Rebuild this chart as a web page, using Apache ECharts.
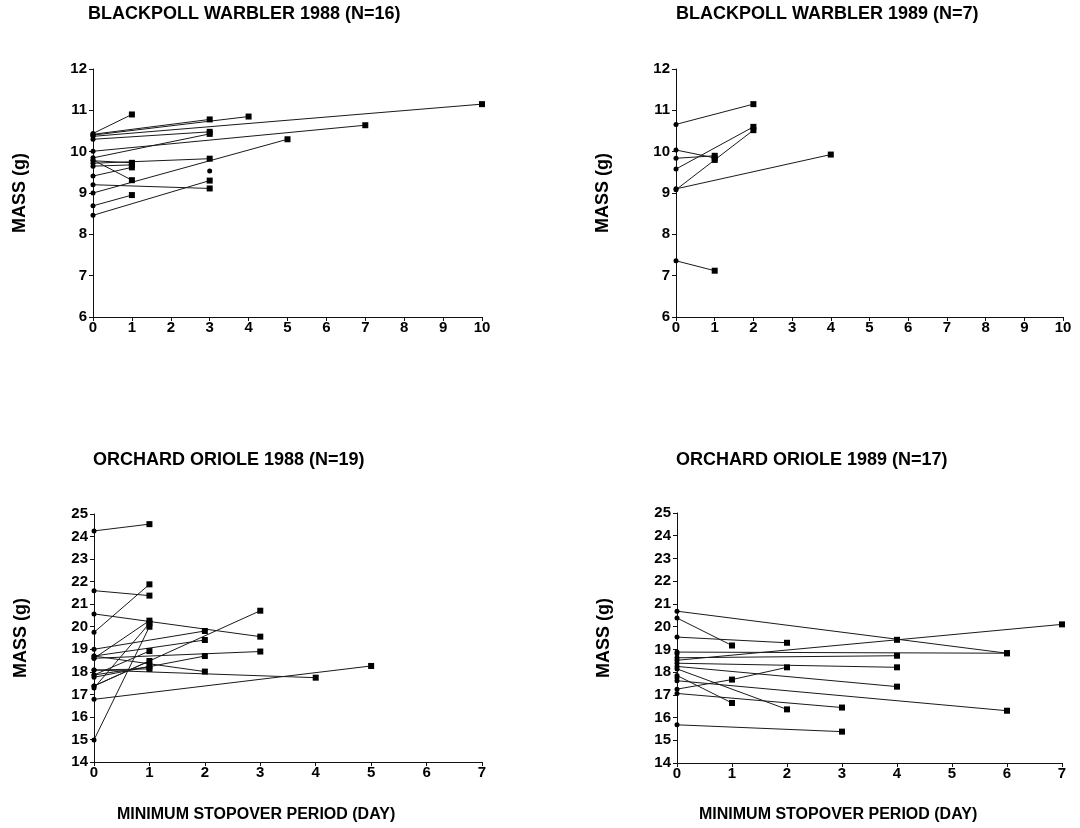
<!DOCTYPE html>
<html>
<head>
<meta charset="utf-8">
<script src="https://cdn.jsdelivr.net/npm/echarts@6/dist/echarts.min.js"></script>
<style>html,body{margin:0;padding:0;background:#fff;}#c{width:1080px;height:828px;}</style>
</head>
<body>
<div id="c"></div>
<script>
// ---- data: each bird = list of [day, mass(g)] captures ----
const panelTitles = ['BLACKPOLL WARBLER 1988 (N=16)', 'BLACKPOLL WARBLER 1989 (N=7)', 'ORCHARD ORIOLE 1988 (N=19)', 'ORCHARD ORIOLE 1989 (N=17)'];
const xAxisTitle = 'MINIMUM STOPOVER PERIOD (DAY)';
const yAxisTitle = 'MASS (g)';
const xRangeWarbler = [0, 10];
const yRangeWarbler = [6, 12];
const xRangeOriole = [0, 7];
const yRangeOriole = [14, 25];

const warbler1988 = [
  [[0,10.44],[1,10.90]],
  [[0,10.42],[3,10.78]],
  [[0,10.40],[4,10.85]],
  [[0,10.37],[10,11.15]],
  [[0,10.30],[3,10.48]],
  [[0,10.01],[7,10.64]],
  [[0,9.85],[3,10.43]],
  [[0,9.78],[1,9.73]],
  [[0,9.72],[3,9.83]],
  [[0,9.65],[1,9.68]],
  [[0,9.80],[1,9.31]],
  [[0,9.41],[1,9.62]],
  [[0,9.20],[3,9.11]],
  [[0,9.00],[5,10.30]],
  [[0,8.69],[1,8.95]],
  [[0,8.46],[3,9.30]],
  [[3,9.53]]
];
const warbler1989 = [
  [[0,10.66],[2,11.15]],
  [[0,10.04],[1,9.85]],
  [[0,9.84],[1,9.90]],
  [[0,9.58],[2,10.60]],
  [[0,9.08],[1,9.80],[2,10.52]],
  [[0,9.10],[4,9.93]],
  [[0,7.36],[1,7.12]]
];
const oriole1988 = [
  [[0,24.25],[1,24.55]],
  [[0,21.60],[1,21.38]],
  [[0,19.75],[1,21.88]],
  [[0,20.57],[3,19.56]],
  [[0,14.98],[1,20.00]],
  [[0,18.60],[1,20.27]],
  [[0,17.28],[1,20.15]],
  [[0,16.78],[5,18.26]],
  [[0,18.08],[4,17.74]],
  [[0,17.37],[3,20.71]],
  [[0,19.00],[2,19.81]],
  [[0,18.70],[2,19.41]],
  [[0,18.60],[3,18.90]],
  [[0,17.76],[2,18.70]],
  [[0,17.86],[1,18.92]],
  [[0,17.37],[1,18.48]],
  [[0,18.70],[2,18.01]],
  [[0,18.08],[1,18.13]],
  [[0,17.86],[1,18.23]]
];
const oriole1989 = [
  [[0,20.68],[6,18.83]],
  [[0,20.38],[1,19.17]],
  [[0,19.54],[2,19.29]],
  [[0,18.52],[4,19.42],[7,20.10]],
  [[0,18.88],[6,18.83]],
  [[0,18.63],[4,18.72]],
  [[0,18.39],[4,18.21]],
  [[0,17.25],[1,17.67],[2,18.21]],
  [[0,18.25],[4,17.36]],
  [[0,17.85],[1,16.64]],
  [[0,18.14],[2,16.36]],
  [[0,17.62],[6,16.30]],
  [[0,17.06],[3,16.44]],
  [[0,15.68],[3,15.38]],
  [[0,18.81]],
  [[0,17.75]]
];

const panels = [warbler1988, warbler1989, oriole1988, oriole1989];
const xRanges = [xRangeWarbler, xRangeWarbler, xRangeOriole, xRangeOriole];
const yRanges = [yRangeWarbler, yRangeWarbler, yRangeOriole, yRangeOriole];

const FONT = '"Liberation Sans", Arial, Helvetica, sans-serif';
const grids = [
  {left: 93, top: 69, width: 389, height: 248},
  {left: 676, top: 69, width: 387, height: 248},
  {left: 94, top: 514, width: 388, height: 248},
  {left: 677, top: 513, width: 385, height: 250}
];

function axisBase(margin) {
  return {
    axisLine: {show: true, onZero: false, lineStyle: {color: '#111', width: 1}},
    axisTick: {show: true, inside: false, length: 4, lineStyle: {color: '#111', width: 1}},
    splitLine: {show: false},
    axisLabel: {color: '#000', fontFamily: FONT, fontWeight: 'bold', fontSize: 15, margin: margin}
  };
}

const xAxes = xRanges.map((r, i) => Object.assign(axisBase(3), {
  type: 'value', gridIndex: i, min: r[0], max: r[1], interval: 1
}));
const yAxes = yRanges.map((r, i) => Object.assign(axisBase(6), {
  type: 'value', gridIndex: i, min: r[0], max: r[1], interval: 1,
  name: yAxisTitle, nameLocation: 'middle', nameRotate: 90, nameGap: 64,
  nameTextStyle: {color: '#000', fontFamily: FONT, fontWeight: 'bold', fontSize: 18}
}));

const series = [];
panels.forEach((birds, i) => {
  birds.forEach(bird => {
    series.push({
      type: 'line', xAxisIndex: i, yAxisIndex: i,
      silent: true, animation: false, showSymbol: true,
      lineStyle: {color: '#1a1a1a', width: 1},
      itemStyle: {color: '#000'},
      data: bird.map((pt, k) => ({
        value: pt,
        symbol: k === 0 ? 'circle' : 'rect',
        symbolSize: k === 0 ? 5 : 6
      }))
    });
  });
});

const panelTitleStyle = {color: '#000', fontFamily: FONT, fontWeight: 'bold', fontSize: 18};
const axisTitleStyle = {color: '#000', fontFamily: FONT, fontWeight: 'bold', fontSize: 16};
const titles = [
  {text: panelTitles[0], left: 88, top: 5, textStyle: panelTitleStyle},
  {text: panelTitles[1], left: 676, top: 5, textStyle: panelTitleStyle},
  {text: panelTitles[2], left: 93, top: 451, textStyle: panelTitleStyle},
  {text: panelTitles[3], left: 676, top: 451, textStyle: panelTitleStyle},
  {text: xAxisTitle, left: 117, top: 807, textStyle: axisTitleStyle},
  {text: xAxisTitle, left: 699, top: 807, textStyle: axisTitleStyle}
].map(t => Object.assign(t, {padding: 0}));

const chart = echarts.init(document.getElementById('c'), null, {renderer: 'canvas'});
chart.setOption({
  backgroundColor: '#fff',
  animation: false,
  title: titles,
  grid: grids,
  xAxis: xAxes,
  yAxis: yAxes,
  series: series
});
</script>
</body>
</html>
